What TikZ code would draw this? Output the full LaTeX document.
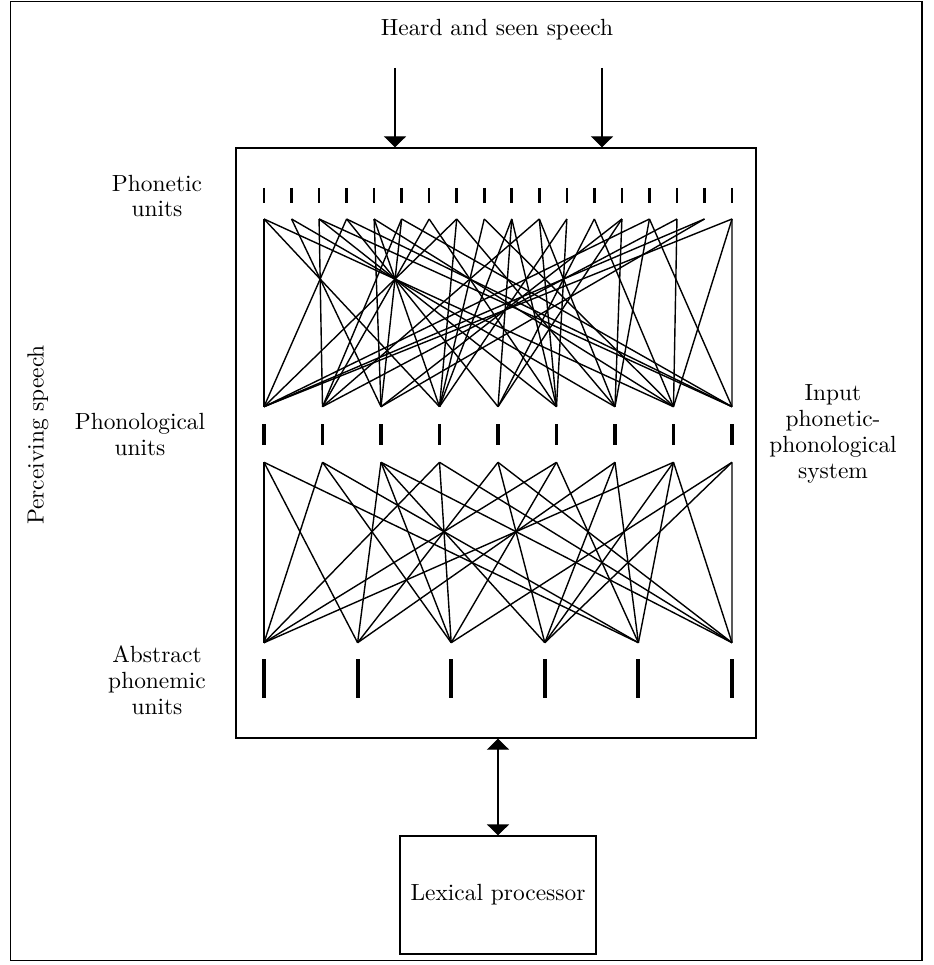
\documentclass[tikz,border=0pt]{standalone}
\usetikzlibrary{arrows.meta}
\begin{document}
\begin{tikzpicture}[x=1pt,y=-1pt,
  lbl/.style={font=\fontsize{10}{11.1}\selectfont, align=center, inner sep=0pt, scale=2.34, transform shape},
  net/.style={line width=1.4pt},
  boxed/.style={draw, line width=1.2pt, inner sep=0pt},
  tickA/.style={line width=2.6pt},
  tickB/.style={line width=3.4pt},
  tickC/.style={line width=4pt},
  arr/.style={line width=1.2pt, -{Triangle[width=22pt,length=11pt]}},
  darr/.style={line width=1.2pt, {Triangle[width=22pt,length=11pt]}-{Triangle[width=22pt,length=11pt]}}]
\useasboundingbox (0,0) rectangle (933,965);
\draw[line width=1.2pt] (10.5,1.5) rectangle (922,960.5);

% boxes
\node[boxed, minimum width=520pt, minimum height=590pt] (main) at (496,443) {};
\node[boxed, minimum width=196pt, minimum height=118pt] (lex) at (498,895) {};
\node[lbl] (lextext) at (lex.center) {Lexical processor};

% labels
\node[lbl] (title) at (497,30) {Heard and seen speech};
\node[lbl] (lphon) at (157,196) {Phonetic\\units};
\node[lbl] (lphol) at (140,434.5) {Phonological\\units};
\node[lbl] (labs) at (157,680.5) {Abstract\\phonemic\\units};
\node[lbl, rotate=90] (lperc) at (38,435) {Perceiving speech};
\node[lbl] (linput) at (833,433.5) {Input\\phonetic-\\phonological\\system};

% arrows
\coordinate (in1) at (395,68);
\coordinate (in2) at (602,68);
\draw[arr] (in1) -- (in1 |- main.north);
\draw[arr] (in2) -- (in2 |- main.north);
\draw[darr] (lex.north |- main.south) -- (lex.north);

% unit coordinates
\foreach \i in {1,...,18} {
  \coordinate (T\i) at ({264+27.53*(\i-1)},219);
  \draw[tickA] ({264+27.53*(\i-1)},188) -- ++(0,15);
}
\foreach \i in {1,...,9} {
  \coordinate (B\i) at ({264+58.5*(\i-1)},406.7);
  \coordinate (P\i) at ({264+58.5*(\i-1)},462.3);
  \draw[tickB] ({264+58.5*(\i-1)},424) -- ++(0,21);
}
\foreach \i in {1,...,6} {
  \coordinate (A\i) at ({264+93.6*(\i-1)},642.7);
  \draw[tickC] ({264+93.6*(\i-1)},659) -- ++(0,39);
}

% phonetic -> phonological connections
\foreach \t/\b in {1/1,1/4,1/8, 2/3,2/7, 3/2,3/6,3/9, 4/1,4/5,4/9,
  5/3,5/4,5/8, 6/2,6/3,6/9, 7/2,7/6, 8/1,8/4,8/7, 9/4,9/8,
  10/4,10/5,10/6, 11/2,11/6,11/7, 12/4,12/6, 13/5,13/8,
  14/3,14/5,14/7, 15/1,15/7,15/9, 16/2,16/8, 17/1,17/3, 18/1,18/8,18/9}
  \draw[net] (T\t) -- (B\b);

% phonological -> abstract connections
\foreach \p/\a in {1/1,1/2,1/5, 2/1,2/3,2/5, 3/2,3/3,3/4,3/6,
  4/1,4/3,4/6, 5/2,5/4,5/6, 6/1,6/3,6/5, 7/2,7/4,7/5,
  8/1,8/4,8/5,8/6, 9/3,9/4,9/6}
  \draw[net] (P\p) -- (A\a);
\end{tikzpicture}
\end{document}
